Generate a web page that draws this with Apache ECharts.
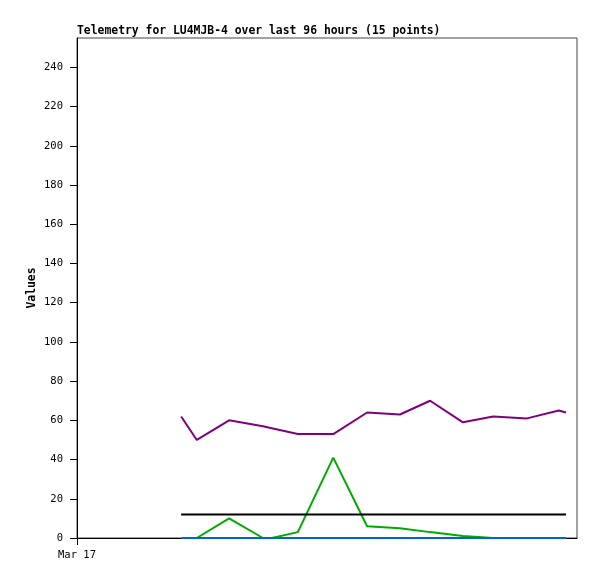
<!DOCTYPE html>
<html>
<head>
<meta charset="utf-8">
<script src="https://cdn.jsdelivr.net/npm/echarts@6/dist/echarts.min.js"></script>
<style>
  html, body { margin: 0; padding: 0; background: #fff; }
  #chart { width: 597px; height: 579px; }
</style>
</head>
<body>
<div id="chart"></div>
<script>
// hours since Mar 17 00:00
let hours = [20.0, 23.0, 29.2, 35.7, 37.4, 42.4, 49.2, 55.7, 62.0, 67.8, 74.1, 79.9, 86.4, 92.5, 93.9]
let purpleVals = [62, 50, 60, 57, 56, 53, 53, 64, 63, 70, 59, 62, 61, 65, 64]
let greenVals = [0, 0, 10, 0, 0, 3, 41, 6, 5, 3, 1, 0, 0, 0, 0]
let blackVals = [12, 12, 12, 12, 12, 12, 12, 12, 12, 12, 12, 12, 12, 12, 12]
let blueVals = [0, 0, 0, 0, 0, 0, 0, 0, 0, 0, 0, 0, 0, 0, 0]
let yTicks = [0, 20, 40, 60, 80, 100, 120, 140, 160, 180, 200, 220, 240]
let xTicks = [0]
let xTickLabels = ['Mar 17']

function pairs (vals) {
  return vals.map((v, i) => [hours[i], v])
}

let mono = 'DejaVu Sans Mono'
let myChart = echarts.init(document.getElementById('chart'), null, { renderer: 'canvas' })

let lineSeries = (name, vals, color) => ({
  name: name,
  type: 'line',
  data: pairs(vals),
  showSymbol: false,
  symbol: 'none',
  lineStyle: { color: color, width: 2 },
  itemStyle: { color: color },
  animation: false
})

let options = {
  animation: false,
  title: {
    text: 'Telemetry for LU4MJB-4 over last 96 hours (15 points)',
    left: 72,
    top: 21,
    textStyle: { fontFamily: mono, fontSize: 11.4, fontWeight: 'bold', color: '#000' }
  },
  grid: {
    left: 77,
    top: 38,
    right: 20,
    bottom: 41,
    show: true,
    borderColor: '#444',
    borderWidth: 1
  },
  xAxis: {
    type: 'value',
    min: 0,
    max: 96,
    splitLine: { show: false },
    axisLine: { lineStyle: { color: '#000', width: 1 } },
    axisTick: { customValues: xTicks, length: 7, lineStyle: { color: '#000' } },
    axisLabel: {
      customValues: xTicks,
      formatter: v => xTickLabels[xTicks.indexOf(v)] || '',
      fontFamily: mono,
      fontSize: 10.5,
      color: '#000',
      margin: 12
    }
  },
  yAxis: {
    type: 'value',
    min: 0,
    max: 255,
    name: 'Values',
    nameLocation: 'middle',
    nameGap: 39,
    nameMoveOverlap: false,
    nameTextStyle: { fontFamily: mono, fontSize: 11.4, fontWeight: 'bold', color: '#000' },
    splitLine: { show: false },
    axisLine: { show: true, lineStyle: { color: '#000', width: 1 } },
    axisTick: { show: true, customValues: yTicks, length: 7, lineStyle: { color: '#000' } },
    axisLabel: {
      customValues: yTicks,
      fontFamily: mono,
      fontSize: 10.5,
      color: '#000',
      margin: 14
    }
  },
  series: [
    lineSeries('purple', purpleVals, '#7f007f'),
    lineSeries('green', greenVals, '#00aa00'),
    lineSeries('black', blackVals, '#000000'),
    lineSeries('blue', blueVals, '#0066cc')
  ]
}
myChart.setOption(options)
</script>
</body>
</html>
